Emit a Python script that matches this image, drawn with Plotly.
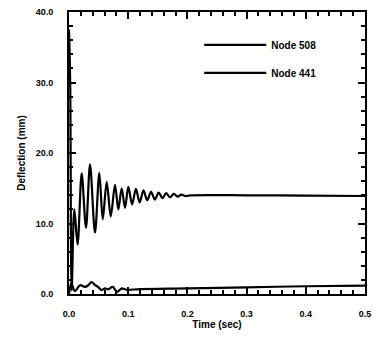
import plotly.graph_objects as go

# Node 508 deflection (mm) vs time (sec)
t508 = [0.0, 0.002, 0.0045, 0.009, 0.0145, 0.0214, 0.0287, 0.0355, 0.0439, 0.0512,
        0.057, 0.0637, 0.0705, 0.0777, 0.0833, 0.089, 0.0946, 0.1002, 0.1066, 0.113,
        0.1194, 0.1258, 0.1322, 0.1386, 0.145, 0.1514, 0.1578, 0.1642, 0.1706, 0.177,
        0.1834, 0.1898, 0.1962, 0.205, 0.3, 0.4, 0.5]
d508 = [37.5, 30.0, 0.5, 12.0, 7.0, 17.1, 9.4, 18.4, 8.7, 17.2,
        10.6, 15.9, 11.0, 15.5, 12.0, 15.0, 12.2, 15.2, 12.7, 14.9,
        13.0, 14.7, 13.3, 14.5, 13.4, 14.4, 13.6, 14.3, 13.7, 14.2,
        13.8, 14.1, 13.9, 14.0, 14.0, 13.95, 13.9]

# Node 441
t441 = [0.0, 0.004, 0.010, 0.0186, 0.027, 0.0327, 0.038, 0.044, 0.049, 0.055,
        0.061, 0.066, 0.074, 0.081, 0.089, 0.097, 0.12, 0.2, 0.3, 0.4, 0.5]
d441 = [0.0, 1.5, 0.4, 1.25, 1.0, 1.25, 1.7, 1.25, 1.0, 0.55,
        0.8, 0.65, 1.0, 0.3, 0.8, 0.6, 0.7, 0.8, 0.95, 1.1, 1.2]

x_ticks = [0.0, 0.1, 0.2, 0.3, 0.4, 0.5]
y_ticks = [0.0, 10.0, 20.0, 30.0, 40.0]

fig = go.Figure()
fig.add_trace(go.Scatter(x=t508, y=d508, mode="lines", name="Node 508",
                         line=dict(color="black", width=2.2, shape="spline", smoothing=0.9),
                         legendgroup="a"))
fig.add_trace(go.Scatter(x=t441, y=d441, mode="lines", name="Node 441",
                         line=dict(color="black", width=2.2, shape="spline", smoothing=0.9),
                         legendgroup="b"))

font = "Liberation Sans, Arial, sans-serif"
axis_common = dict(
    showline=True, linecolor="black", linewidth=2, mirror="ticks",
    ticks="inside", ticklen=7, tickwidth=2, tickcolor="black",
    showgrid=False, zeroline=False,
    tickfont=dict(family=font, size=9, color="black", weight="bold"),
    tickformat=".1f",
    minor=dict(ticks="inside", ticklen=4, tickwidth=1.5, tickcolor="black", showgrid=False),
)

fig.update_xaxes(range=[0, 0.5], tickvals=x_ticks, minor_dtick=0.02,
                 title=dict(text="Time (sec)", font=dict(family=font, size=10, color="black", weight="bold"), standoff=2),
                 ticklabelstandoff=10, **axis_common)
fig.update_yaxes(range=[0, 40], tickvals=y_ticks, minor_dtick=2,
                 title=dict(text="Deflection (mm)", font=dict(family=font, size=10, color="black", weight="bold"), standoff=8),
                 ticklabelstandoff=12, **axis_common)

fig.update_layout(
    width=382, height=341,
    margin=dict(l=69, r=17, t=7, b=47),
    paper_bgcolor="white", plot_bgcolor="white",
    showlegend=True,
    legend=dict(x=0.44, y=0.935, xanchor="left", yanchor="top",
                bgcolor="rgba(0,0,0,0)", borderwidth=0,
                font=dict(family=font, size=10, color="black", weight="bold"),
                itemwidth=62, tracegroupgap=9),
)

fig.write_html("out.html")
